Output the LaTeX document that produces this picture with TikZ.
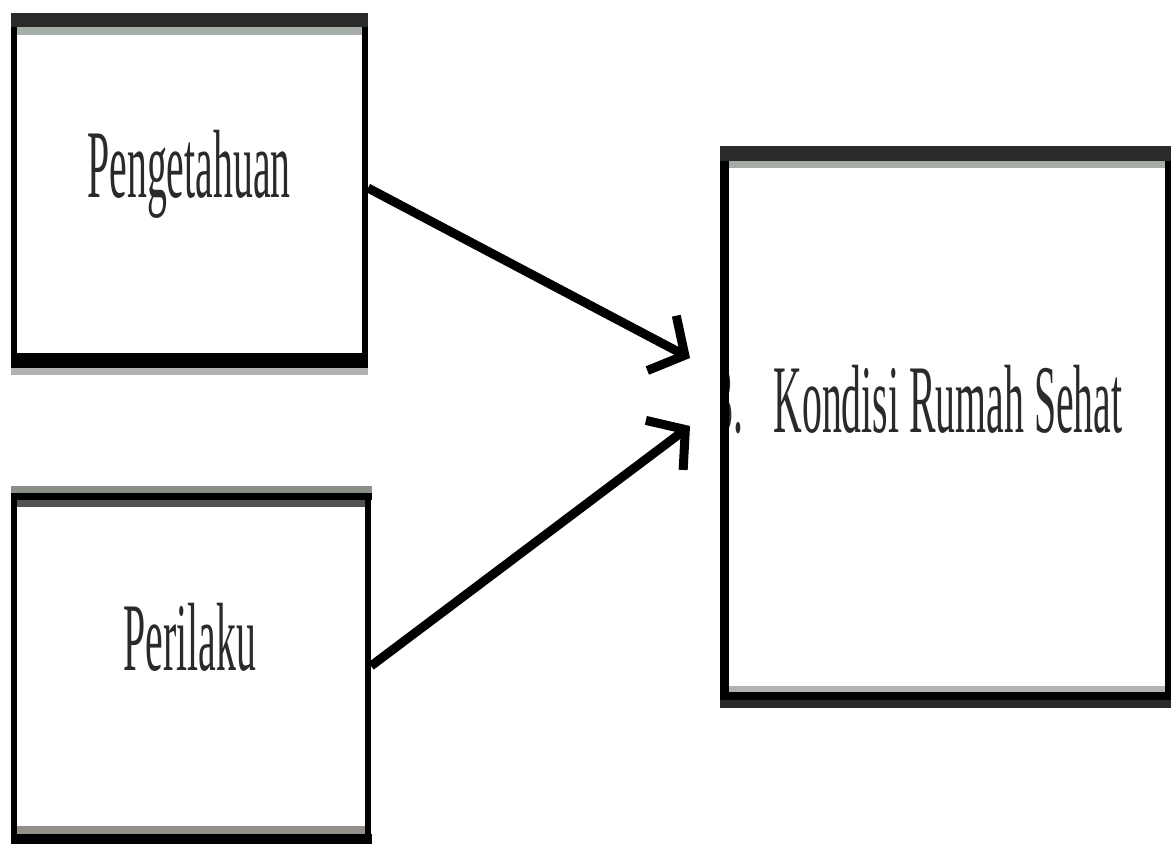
\documentclass[tikz,border=0pt]{standalone}
\usepackage{fontspec}
\setmainfont{Liberation Serif}
\usetikzlibrary{arrows.meta}
\definecolor{inkgray}{HTML}{2A2A2A}
\definecolor{bandA}{HTML}{A6ACA6}
\definecolor{bandB}{HTML}{8A9088}
\definecolor{bandC}{HTML}{4F544F}
\definecolor{bandD}{HTML}{B2B2B2}
\definecolor{bandE}{HTML}{949089}
\tikzset{
  box/.style={draw=black, line width=6pt, fill=white, inner sep=0pt},
  lbl/.style={anchor=base, inner sep=0pt, text=inkgray, font=\fontsize{97}{97}\selectfont},
  conn/.style={line width=9pt, -{Straight Barb[length=26pt,width=62pt,line width=9pt]}},
}
\newcommand{\cond}[1]{\scalebox{0.41}[1]{#1}}
\begin{document}
\begin{tikzpicture}[x=1pt,y=-1pt]
\useasboundingbox (0,0) rectangle (1171,844);
\fill[white] (0,0) rectangle (1171,844);
% boxes
\node[box, minimum width=351pt, minimum height=340pt] (b1) at (189.5,190) {};
\node[box, minimum width=354pt, minimum height=340pt] (b2) at (191,667) {};
\node[box, minimum width=443pt, minimum height=542pt] (b3) at (946.5,425) {};
\fill[black] (720,146) rectangle (729,708);
% scan bands (heavy horizontal edges)
\fill[inkgray] (11,13) rectangle (368,27);
\fill[bandA] (17,27) rectangle (362,35);
\fill[black] (11,353) rectangle (368,368);
\fill[bandD] (11,368) rectangle (368,375);
\fill[bandB] (11,486) rectangle (372,493);
\fill[black] (11,493) rectangle (372,500);
\fill[bandC] (17,500) rectangle (365,507);
\fill[bandE] (17,826) rectangle (365,834);
\fill[black] (11,834) rectangle (372,844);
\fill[inkgray] (720,146) rectangle (1171,161);
\fill[bandA] (729,161) rectangle (1165,168);
\fill[bandD] (729,686) rectangle (1165,692);
\fill[black] (720,692) rectangle (1171,700);
\fill[inkgray] (720,700) rectangle (1171,708);
% labels
\node[lbl] (t1) at (189,197) {\cond{Pengetahuan}};
\node[lbl] (t2) at (190,670) {\cond{Perilaku}};
\node[lbl] (t3) at (948,432) {\cond{Kondisi Rumah Sehat}};
\begin{scope}
\clip (729,300) rectangle (760,460);
\node[lbl, anchor=base east] (t4) at (744,432) {\cond{3.}};
\end{scope}
% connectors
\coordinate (p1) at (690,358);
\coordinate (p2) at (690,426);
\draw[conn] ([yshift=2pt]b1.east) -- (p1);
\draw[conn] ([yshift=1pt]b2.east) -- (p2);
\end{tikzpicture}
\end{document}
